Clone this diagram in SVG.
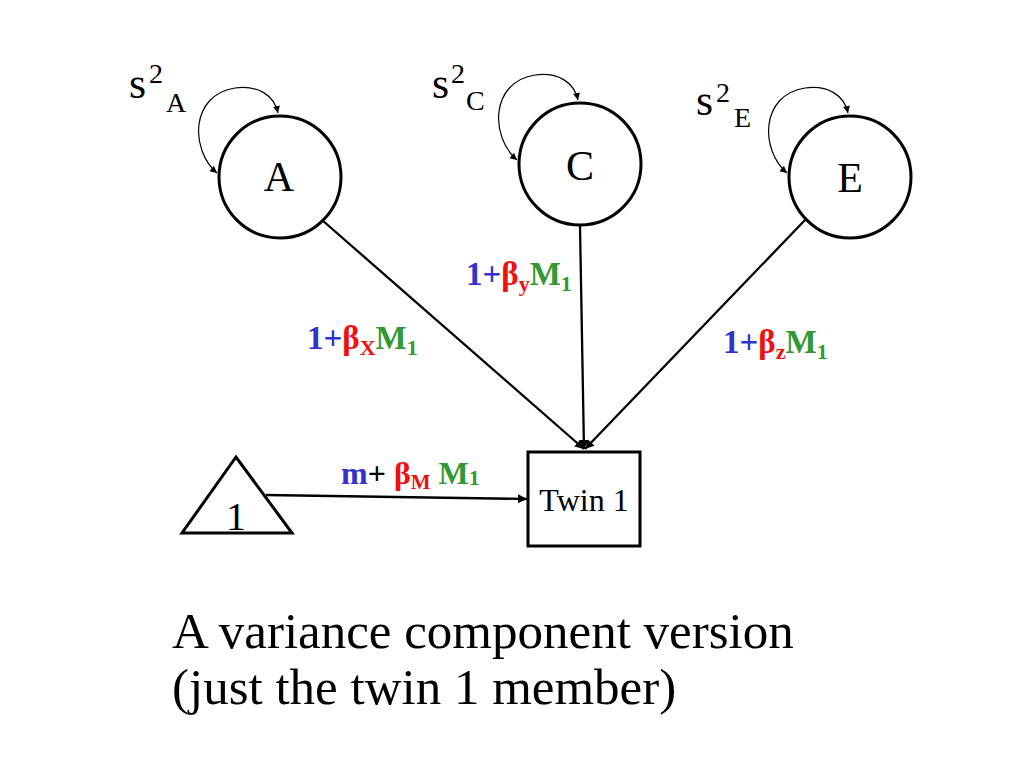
<svg xmlns="http://www.w3.org/2000/svg" width="1024" height="768" viewBox="0 0 1024 768">
<style>
.node{fill:#fff;stroke:#000;stroke-width:3}
.t{font-family:"Liberation Serif","Times New Roman",serif;fill:#000}
.b{font-family:"Liberation Serif","Times New Roman",serif;font-weight:bold}
.blue{fill:#3333CC}.red{fill:#EE1111}.green{fill:#339933}.blk{fill:#000}
.edge{stroke:#000;stroke-width:2.3;fill:none}
.loop{stroke:#000;stroke-width:1.2;fill:none}
</style>
<defs>
<marker id="arr" viewBox="0 0 10 10" refX="10" refY="5" markerWidth="12" markerHeight="9" markerUnits="userSpaceOnUse" orient="auto"><path d="M0,0 L10,5 L0,10 z" fill="#000"/></marker>
<marker id="sarr" viewBox="0 0 10 10" refX="10" refY="5" markerWidth="9" markerHeight="7" markerUnits="userSpaceOnUse" orient="auto-start-reverse"><path d="M0,0 L10,5 L0,10 z" fill="#000"/></marker>
</defs>
<rect width="1024" height="768" fill="#fff"/>

<g id="connectors">
<path class="edge" d="M322,220 L584,449" marker-end="url(#arr)"/>
<path class="edge" d="M580,226 L584,449" marker-end="url(#arr)"/>
<path class="edge" d="M806,219 L585,449" marker-end="url(#arr)"/>
<path class="edge" d="M266,495 L527,499" marker-end="url(#arr)"/>
<path class="loop" d="M217,173 C190,150 190,95 235,88 C258,85 274,95 278,113" marker-start="url(#sarr)" marker-end="url(#sarr)"/>
<path class="loop" d="M517,160 C490,137 490,82 535,75 C558,72 574,82 578,100" marker-start="url(#sarr)" marker-end="url(#sarr)"/>
<path class="loop" d="M787,173 C760,150 760,95 805,88 C828,85 844,95 848,113" marker-start="url(#sarr)" marker-end="url(#sarr)"/>
</g>

<g id="nodeA">
<circle class="node" cx="280" cy="177" r="61"/>
<text class="t" x="279" y="191" font-size="42" text-anchor="middle">A</text>
</g>
<g id="nodeC">
<circle class="node" cx="580" cy="164" r="61"/>
<text class="t" x="580" y="180" font-size="42" text-anchor="middle">C</text>
</g>
<g id="nodeE">
<circle class="node" cx="850" cy="177" r="61"/>
<text class="t" x="850" y="192" font-size="42" text-anchor="middle">E</text>
</g>
<g id="nodeTwin1">
<rect class="node" x="528" y="452" width="112" height="94"/>
<text class="t" x="584" y="511" font-size="32" text-anchor="middle">Twin 1</text>
</g>
<g id="nodeOne">
<path class="node" d="M236,457 L182,533 L292,533 Z"/>
<text class="t" x="236" y="530" font-size="40" text-anchor="middle">1</text>
</g>

<g id="varA">
<text class="t" x="129" y="98" font-size="44">s</text>
<text class="t" x="149" y="83" font-size="28">2</text>
<text class="t" x="166" y="112" font-size="28">A</text>
</g>
<g id="varC">
<text class="t" x="432" y="98" font-size="44">s</text>
<text class="t" x="451" y="83" font-size="28">2</text>
<text class="t" x="466" y="110" font-size="28">C</text>
</g>
<g id="varE">
<text class="t" x="696" y="115" font-size="44">s</text>
<text class="t" x="716" y="102" font-size="28">2</text>
<text class="t" x="734" y="127" font-size="28">E</text>
</g>

<g id="labels">
<text class="b" x="307" y="349" font-size="33"><tspan class="blue">1+</tspan><tspan class="red">β</tspan><tspan class="red" font-size="22" dy="6">X</tspan><tspan class="green" dy="-6">M</tspan><tspan class="green" font-size="22" dy="6">1</tspan></text>
<text class="b" x="466" y="285" font-size="33"><tspan class="blue">1+</tspan><tspan class="red">β</tspan><tspan class="red" font-size="22" dy="6">y</tspan><tspan class="green" dy="-6">M</tspan><tspan class="green" font-size="22" dy="6">1</tspan></text>
<text class="b" x="723" y="353" font-size="33"><tspan class="blue">1+</tspan><tspan class="red">β</tspan><tspan class="red" font-size="22" dy="6">z</tspan><tspan class="green" dy="-6">M</tspan><tspan class="green" font-size="22" dy="6">1</tspan></text>
<text class="b" x="341" y="484" font-size="32"><tspan class="blue">m</tspan><tspan class="blk">+ </tspan><tspan class="red">β</tspan><tspan class="red" font-size="21" dy="5">M</tspan><tspan class="green" dy="-5"> M</tspan><tspan class="green" font-size="22" dy="1">1</tspan></text>
</g>

<g id="caption">
<text class="t" x="172" y="648" font-size="51">A variance component version</text>
<text class="t" x="172" y="704" font-size="51">(just the twin 1 member)</text>
</g>
</svg>
